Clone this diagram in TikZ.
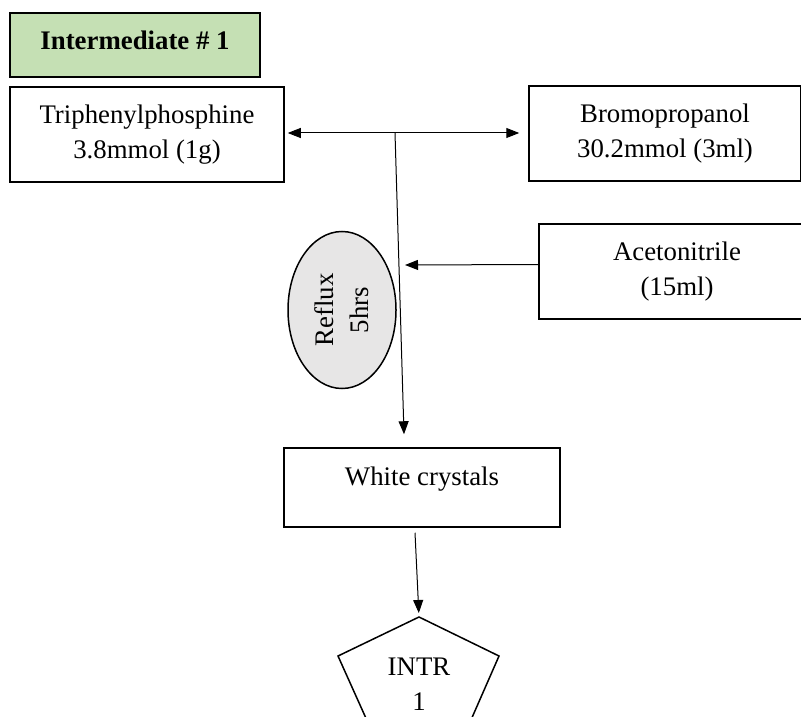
\documentclass[tikz,border=0pt]{standalone}
\usepackage{fontspec}
\setmainfont{Liberation Serif}
\usetikzlibrary{arrows.meta,shapes.geometric}
\definecolor{titlegreen}{HTML}{C5E0B4}
\definecolor{refluxgrey}{HTML}{E7E6E6}
\tikzset{
    reagent/.style={shape=rectangle,draw,line width=0.75pt,align=center,
        minimum width=#1,minimum height=47.5pt,inner sep=0pt},
    arr/.style={-{Triangle[length=6.5pt,width=5pt]},line width=0.5pt},
    dbl/.style={{Triangle[length=6.5pt,width=5pt]}-{Triangle[length=6.5pt,width=5pt]},line width=0.5pt}
}
\begin{document}
\begin{tikzpicture}[x=0.5pt,y=-0.5pt,
        every node/.style={font=\fontsize{13.4pt}{17.5pt}\selectfont}]
        \useasboundingbox (0,0) rectangle (801,716);
        % title
        \node (title) [shape=rectangle,draw,line width=0.75pt,fill=titlegreen,
            minimum width=125pt,minimum height=32pt,text height=9pt,text depth=4pt]
            at (135,45) {\textbf{Intermediate \# 1}};
        % starting materials
        \node (triph) [reagent=137pt] at (147,134.5) {Triphenylphosphine\\3.8mmol (1g)};
        \node (bromo) [reagent=136pt] at (665,133.5) {Bromopropanol\\30.2mmol (3ml)};
        \node (aceto) [reagent=138pt] at (677,271.5) {Acetonitrile\\(15ml)};
        % conditions
        \node (reflux) [shape=ellipse,draw,line width=0.75pt,fill=refluxgrey,rotate=90,
            minimum width=78.5pt,minimum height=54pt,inner sep=0pt,align=center]
            at (342,310) {Reflux\\5hrs};
        % product
        \node (white) [shape=rectangle,draw,line width=0.75pt,minimum width=138pt,
            minimum height=39.5pt,text height=9pt,text depth=11pt] at (422,487.5) {White crystals};
        \coordinate (p1) at (419,617);
        \coordinate (p2) at (499,656);
        \coordinate (p3) at (460,745);
        \coordinate (p4) at (378,745);
        \coordinate (p5) at (338,656);
        \draw [line width=0.75pt] (p1) -- (p2) -- (p3) -- (p4) -- (p5) -- cycle;
        \node (intr) [align=center] at (419,684) {INTR\\1};
        % connectors
        \coordinate (top) at (395,133);
        \coordinate (join) at (405,265);
        \draw [dbl,shorten <=1.5pt,shorten >=4.5pt] (triph.east |- top) -- (bromo.west |- top);
        \draw [arr] (top) -- ([xshift=-9pt,yshift=6.5pt]white.north);
        \draw [arr] ([yshift=3.5pt]aceto.west) -- (join);
        \draw [arr,shorten >=2pt] ([xshift=-3.5pt,yshift=-2.5pt]white.south) -- (p1);
    \end{tikzpicture}
\end{document}
